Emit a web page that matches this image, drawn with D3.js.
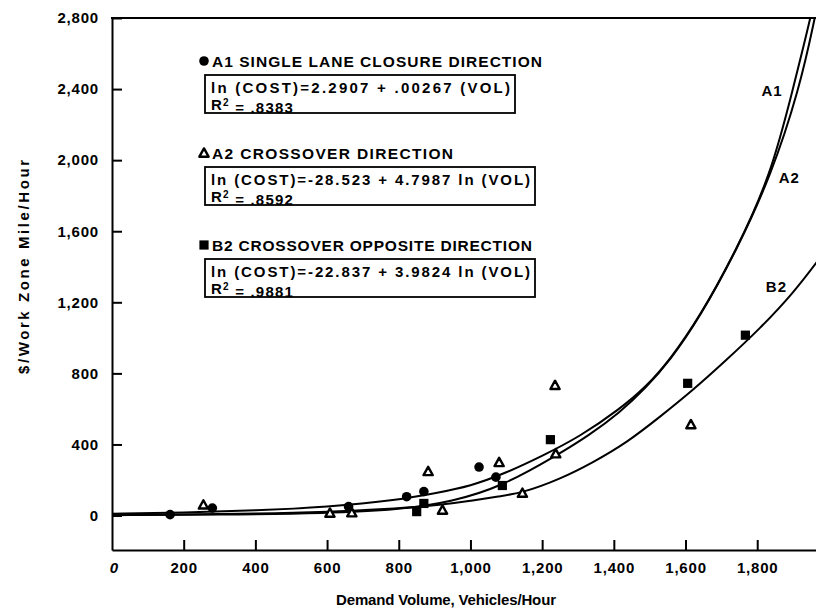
<!DOCTYPE html>
<html>
<head>
<meta charset="utf-8">
<script src="https://cdn.jsdelivr.net/npm/d3@7"></script>
<style>
  body { margin: 0; background: #fff; }
  svg { display: block; font-family: "Liberation Sans", Arial, sans-serif; font-weight: bold; }
</style>
</head>
<body>
<svg id="vis"></svg>
<script>
(function() {
  // tick values
  var xTicks = [0, 200, 400, 600, 800, 1000, 1200, 1400, 1600, 1800];
  var yTicks = [0, 400, 800, 1200, 1600, 2000, 2400, 2800];

  // observed points [volume, cost]
  var a1Points = [[162, 5], [280, 42], [660, 50], [822, 106], [870, 135], [1024, 273], [1071, 216]];
  var a2Points = [[255, 60], [608, 14], [669, 16], [882, 248], [922, 31], [1080, 299], [1145, 126],
                  [1236, 733], [1238, 348], [1615, 512]];
  var b2Points = [[850, 22], [870, 68], [1089, 169], [1223, 427], [1606, 744], [1767, 1015]];

  // fitted curves
  var a1Vol  = [0, 200, 400, 600, 800, 900, 1000, 1100, 1200, 1305, 1417, 1490, 1556, 1640, 1742, 1838, 1899, 1949, 1975];
  var a1Cost = [10, 17, 28, 48, 88, 125, 165, 240, 335, 444, 600, 725, 875, 1119, 1494, 1916, 2395, 2800, 3050];
  var a2Vol  = [0, 300, 600, 800, 950, 1089, 1238, 1330, 1417, 1490, 1556, 1640, 1742, 1838, 1917, 1961, 1975];
  var a2Cost = [2, 5, 12, 32, 78, 165, 335, 450, 580, 720, 870, 1115, 1490, 1910, 2395, 2800, 2950];
  var b2Vol  = [0, 200, 400, 600, 800, 920, 1000, 1080, 1145, 1250, 1343, 1436, 1529, 1621, 1714, 1808, 1900, 1975];
  var b2Cost = [3, 5, 10, 20, 40, 60, 82, 108, 128, 205, 300, 410, 556, 706, 875, 1053, 1250, 1450];

  var legendItems = [
    { sym: "circle",   title: "A1 SINGLE LANE CLOSURE DIRECTION",
      eq: "ln (COST)=2.2907 + .00267 (VOL)", r2: ".8383" },
    { sym: "triangle", title: "A2 CROSSOVER DIRECTION",
      eq: "ln (COST)=-28.523 + 4.7987 ln (VOL)", r2: ".8592" },
    { sym: "square",   title: "B2 CROSSOVER OPPOSITE DIRECTION",
      eq: "ln (COST)=-22.837 + 3.9824 ln (VOL)", r2: ".9881" }
  ];

  var width = 816, height = 611;

  var chart = d3.select("#vis")
    .attr("width", width)
    .attr("height", height);

  var x = d3.scaleLinear().domain([0, 1964]).range([112, 816]);
  var y = d3.scaleLinear().domain([-194, 2800]).range([550, 18]);

  var fmt = d3.format(",");

  // clip for curves
  chart.append("clipPath").attr("id", "plot")
    .append("rect").attr("x", 112).attr("y", y(2800)).attr("width", width - 112).attr("height", 550 - y(2800));

  // axes
  var yAxis = d3.axisLeft(y).tickValues(yTicks).tickFormat(fmt)
    .tickSizeInner(-10).tickSizeOuter(0).tickPadding(13);
  var xAxis = d3.axisBottom(x).tickValues(xTicks.slice(1)).tickFormat(fmt)
    .tickSizeInner(-10).tickSizeOuter(0).tickPadding(12);

  var gy = chart.append("g").attr("transform", "translate(112,0)").call(yAxis);
  var gx = chart.append("g").attr("transform", "translate(0,550)").call(xAxis);

  [gx, gy].forEach(function(g) {
    g.selectAll("path.domain").attr("stroke", "#000").attr("stroke-width", 2);
    g.selectAll(".tick line").attr("stroke", "#000").attr("stroke-width", 2);
    g.selectAll(".tick text").attr("fill", "#000")
      .style("font-size", "15px").style("font-weight", "bold").style("font-family", "inherit")
      .attr("letter-spacing", 0.8);
  });

  // the 0 label under the corner
  chart.append("text")
    .attr("x", x(0) + 2).attr("y", 550 + 12).attr("dy", "0.71em")
    .attr("text-anchor", "middle").style("font-size", "15px").style("font-style", "italic")
    .text("0");

  // top frame line
  chart.append("line")
    .attr("x1", 111).attr("x2", width)
    .attr("y1", y(2800)).attr("y2", y(2800))
    .attr("stroke", "#000").attr("stroke-width", 2);

  // axis titles
  chart.append("text")
    .attr("x", 336).attr("y", 605)
    .style("font-size", "15px")
    .attr("textLength", 220).attr("lengthAdjust", "spacing")
    .text("Demand  Volume,  Vehicles/Hour");

  chart.append("text")
    .attr("transform", "translate(29,374) rotate(-90)")
    .style("font-size", "15px")
    .attr("textLength", 214).attr("lengthAdjust", "spacing")
    .text("$/Work  Zone  Mile/Hour");

  // curves
  var line = d3.line()
    .x(function(d) { return x(d[0]); })
    .y(function(d) { return y(d[1]); })
    .curve(d3.curveBasis);

  var curves = [d3.zip(a1Vol, a1Cost), d3.zip(a2Vol, a2Cost), d3.zip(b2Vol, b2Cost)];

  chart.append("g").attr("clip-path", "url(#plot)")
    .selectAll("path")
    .data(curves)
    .enter()
    .append("path")
    .attr("d", line)
    .attr("fill", "none")
    .attr("stroke", "#000")
    .attr("stroke-width", 2);

  // curve labels
  var curveLabels = [["A1", 1812, 2390], ["A2", 1860, 1900], ["B2", 1824, 1290]];
  chart.selectAll("text.clabel")
    .data(curveLabels)
    .enter()
    .append("text")
    .attr("class", "clabel")
    .attr("x", function(d) { return x(d[1]); })
    .attr("y", function(d) { return y(d[2]); })
    .attr("dy", "0.35em")
    .style("font-size", "15px")
    .attr("letter-spacing", 1)
    .text(function(d) { return d[0]; });

  // markers
  function drawMarker(g, type, cx, cy) {
    if (type === "circle") {
      g.append("circle").attr("cx", cx).attr("cy", cy).attr("r", 4.8).attr("fill", "#000");
    } else if (type === "square") {
      g.append("rect").attr("x", cx - 4.6).attr("y", cy - 4.6)
        .attr("width", 9.2).attr("height", 9.2).attr("fill", "#000");
    } else {
      var h = 4.6;
      g.append("path")
        .attr("d", "M" + cx + "," + (cy - h) + "L" + (cx + h) + "," + (cy + h * 0.8) + "L" + (cx - h) + "," + (cy + h * 0.8) + "Z")
        .attr("fill", "#fff").attr("stroke", "#000").attr("stroke-width", 2.4).attr("stroke-linejoin", "round");
    }
  }

  var marks = chart.append("g");
  a1Points.forEach(function(d) { drawMarker(marks, "circle", x(d[0]), y(d[1])); });
  b2Points.forEach(function(d) { drawMarker(marks, "square", x(d[0]), y(d[1])); });
  a2Points.forEach(function(d) { drawMarker(marks, "triangle", x(d[0]), y(d[1])); });

  // legend
  var legendTop = [61, 153, 245];
  var boxWidth = [310, 330, 330];
  var titleLen = [330, 241, 320];
  var eqLen = [299, 319, 319];
  legendItems.forEach(function(item, i) {
    var g = chart.append("g").attr("transform", "translate(0," + legendTop[i] + ")");
    drawMarker(g, item.sym, 204, 0);
    g.append("text").attr("x", 212).attr("y", 0).attr("dy", "0.36em")
      .style("font-size", "15.5px")
      .attr("textLength", titleLen[i]).attr("lengthAdjust", "spacing")
      .text(item.title);

    g.append("rect")
      .attr("x", 205).attr("y", 14)
      .attr("width", boxWidth[i]).attr("height", 38)
      .attr("fill", "none").attr("stroke", "#000").attr("stroke-width", 1.8);

    g.append("text").attr("x", 211).attr("y", 27).attr("dy", "0.36em")
      .style("font-size", "15px")
      .attr("textLength", eqLen[i]).attr("lengthAdjust", "spacing")
      .text(item.eq);

    var r = g.append("text").attr("x", 211).attr("y", 44).attr("dy", "0.36em")
      .style("font-size", "15px").attr("letter-spacing", 1.2);
    r.append("tspan").text("R");
    r.append("tspan").attr("dy", "-0.45em").style("font-size", "10px").text("2");
    r.append("tspan").attr("dy", "0.45em").text(" = " + item.r2);
  });

}());
</script>
</body>
</html>
